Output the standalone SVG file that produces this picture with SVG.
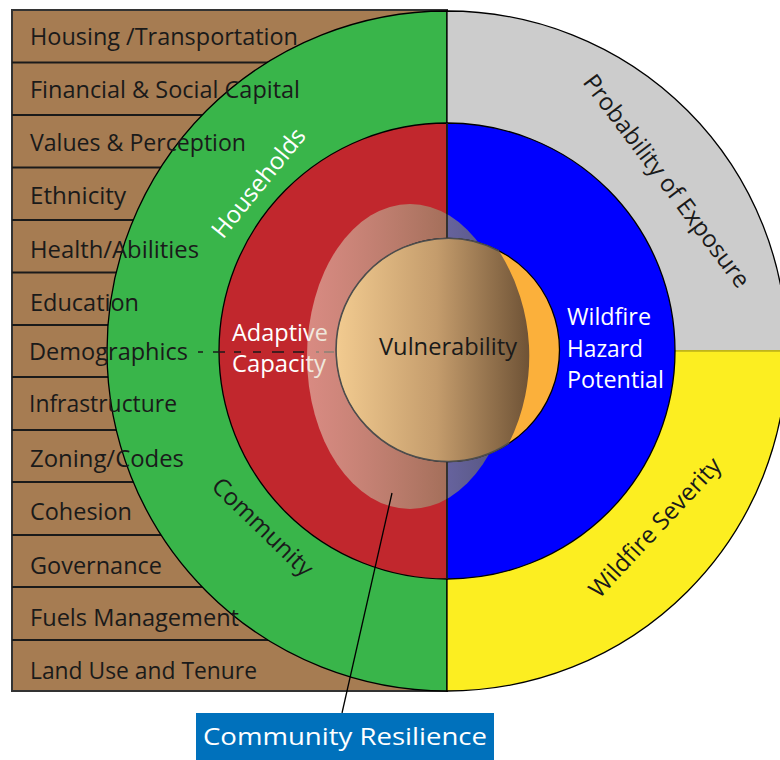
<svg xmlns="http://www.w3.org/2000/svg" width="780" height="760" viewBox="0 0 780 760">
<defs>
<style>
.row{font-family:"Open Sans","Noto Sans","Liberation Sans",sans-serif;font-size:24px;fill:#1a1a1a}
.lbl{font-family:"Open Sans","Noto Sans","Liberation Sans",sans-serif;font-size:24px}
.w{fill:#ffffff}
.k{fill:#1a1a1a}
</style>
<linearGradient id="tan" gradientUnits="userSpaceOnUse" x1="336" y1="0" x2="560" y2="0">
<stop offset="0" stop-color="#f2cb90"/>
<stop offset="0.45" stop-color="#c49c6c"/>
<stop offset="0.86" stop-color="#6f5336"/>
<stop offset="1" stop-color="#5a4028"/>
</linearGradient>
<linearGradient id="res" gradientUnits="userSpaceOnUse" x1="307" y1="0" x2="513" y2="0">
<stop offset="0" stop-color="#ecdcc8" stop-opacity="0.55"/>
<stop offset="1" stop-color="#6e6e46" stop-opacity="0.74"/>
</linearGradient>
</defs>

<g id="factors">
<rect x="12" y="10" width="435" height="681" fill="#a67c52" stroke="#333" stroke-width="2"/>
<g stroke="#1a1a1a" stroke-width="2">
<line x1="12" y1="62.5" x2="447" y2="62.5"/>
<line x1="12" y1="115" x2="447" y2="115"/>
<line x1="12" y1="167.5" x2="447" y2="167.5"/>
<line x1="12" y1="220" x2="447" y2="220"/>
<line x1="12" y1="272.5" x2="447" y2="272.5"/>
<line x1="12" y1="325" x2="447" y2="325"/>
<line x1="12" y1="377" x2="447" y2="377"/>
<line x1="12" y1="430" x2="447" y2="430"/>
<line x1="12" y1="482" x2="447" y2="482"/>
<line x1="12" y1="535" x2="447" y2="535"/>
<line x1="12" y1="587" x2="447" y2="587"/>
<line x1="12" y1="640" x2="447" y2="640"/>
</g>
</g>

<g id="outer-ring">
<path d="M447,11 A340,340 0 0,0 447,691 Z" fill="#39b54a" stroke="#000" stroke-width="1.3"/>
<path d="M447,351 L447,11 A340,340 0 0,1 787,351 Z" fill="#cccccc" stroke="#000" stroke-width="1.3"/>
<path d="M447,351 L787,351 A340,340 0 0,1 447,691 Z" fill="#fcee21" stroke="#000" stroke-width="1.3"/>
<path d="M447,351 L787,351" stroke="#fcee21" stroke-width="1.5"/>
</g>

<g id="inner-ring">
<path d="M447,123 A228,228 0 0,0 447,579 Z" fill="#c1272d" stroke="#000" stroke-width="1.3"/>
<path d="M447,123 A228,228 0 0,1 447,579 Z" fill="#0000ff" stroke="#000" stroke-width="1.3"/>
</g>

<g id="connectors">
<line x1="198" y1="352" x2="336" y2="352" stroke="#1a1a1a" stroke-width="1.5" stroke-dasharray="5 10 12 9 7 12 8 11 12 9 11 12 3"/>
</g>

<g id="adaptive-capacity">
<text class="lbl w" x="232" y="341" textLength="96" lengthAdjust="spacingAndGlyphs">Adaptive</text>
<text class="lbl w" x="232" y="372" textLength="94" lengthAdjust="spacingAndGlyphs">Capacity</text>
</g>

<g id="community-resilience-area">
<ellipse cx="410" cy="356.5" rx="103" ry="152.5" fill="url(#res)"/>
<line x1="447" y1="123" x2="447" y2="579" stroke="#222" stroke-width="1.5"/>
</g>

<g id="vulnerability">
<circle cx="448" cy="350" r="111.5" fill="#fbb03b" stroke="#000" stroke-width="1.3"/>
<path d="M499,251 A197,197 0 0,1 509,443 A111.5,111.5 0 1,1 499,251 Z" fill="url(#tan)"/>
<path d="M499,251 A111.5,111.5 0 1,0 509,443" fill="none" stroke="#4d4d4d" stroke-width="1.6"/>
<text class="lbl k" x="379" y="355" textLength="138" lengthAdjust="spacingAndGlyphs">Vulnerability</text>
</g>

<g id="hazard">
<text class="lbl w" x="567" y="325" textLength="84" lengthAdjust="spacingAndGlyphs">Wildfire</text>
<text class="lbl w" x="567" y="357" textLength="76" lengthAdjust="spacingAndGlyphs">Hazard</text>
<text class="lbl w" x="567" y="388" textLength="97" lengthAdjust="spacingAndGlyphs">Potential</text>
</g>

<g id="ring-labels">
<text class="lbl w" text-anchor="middle" font-size="23" transform="translate(265,188) rotate(-51)">Households</text>
<text class="lbl k" text-anchor="middle" font-size="23" transform="translate(257,533) rotate(44)">Community</text>
<text class="lbl k" text-anchor="middle" font-size="23" transform="translate(660,186) rotate(53)">Probability of Exposure</text>
<text class="lbl k" text-anchor="middle" font-size="23" transform="translate(661,533) rotate(-47)">Wildfire Severity</text>
</g>

<g id="factor-labels">
<text class="row" x="30" y="45" textLength="268" lengthAdjust="spacingAndGlyphs">Housing /Transportation</text>
<text class="row" x="30" y="98" textLength="270" lengthAdjust="spacingAndGlyphs">Financial &amp; Social Capital</text>
<text class="row" x="30" y="151" textLength="216" lengthAdjust="spacingAndGlyphs">Values &amp; Perception</text>
<text class="row" x="30" y="204" textLength="96" lengthAdjust="spacingAndGlyphs">Ethnicity</text>
<text class="row" x="30" y="258" textLength="169" lengthAdjust="spacingAndGlyphs">Health/Abilities</text>
<text class="row" x="30" y="311" textLength="109" lengthAdjust="spacingAndGlyphs">Education</text>
<text class="row" x="29" y="360" textLength="159" lengthAdjust="spacingAndGlyphs">Demographics</text>
<text class="row" x="29" y="412" textLength="148" lengthAdjust="spacingAndGlyphs">Infrastructure</text>
<text class="row" x="30" y="467" textLength="154" lengthAdjust="spacingAndGlyphs">Zoning/Codes</text>
<text class="row" x="30" y="520" textLength="102" lengthAdjust="spacingAndGlyphs">Cohesion</text>
<text class="row" x="30" y="574" textLength="132" lengthAdjust="spacingAndGlyphs">Governance</text>
<text class="row" x="30" y="626" textLength="209" lengthAdjust="spacingAndGlyphs">Fuels Management</text>
<text class="row" x="30" y="679" textLength="227" lengthAdjust="spacingAndGlyphs">Land Use and Tenure</text>
</g>

<g id="resilience-callout">
<line x1="392" y1="493" x2="342" y2="713" stroke="#000" stroke-width="1.3"/>
<rect x="196" y="713" width="298" height="47" fill="#0071bc"/>
<text class="lbl w" x="203" y="745" font-size="28.5" textLength="284" lengthAdjust="spacingAndGlyphs">Community Resilience</text>
</g>
</svg>
